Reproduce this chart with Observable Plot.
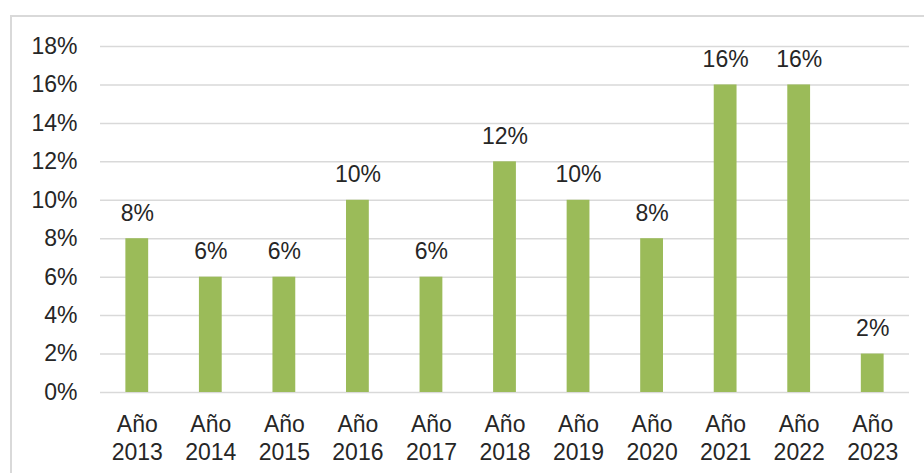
<!DOCTYPE html>
<html>
<head>
<meta charset="utf-8">
<script src="https://cdn.jsdelivr.net/npm/d3@7"></script>
<script src="https://cdn.jsdelivr.net/npm/@observablehq/plot@0.6"></script>
<style>
  html, body { margin: 0; padding: 0; background: #fff; }
  #wrap { position: relative; width: 924px; height: 473px; overflow: hidden; }
  #frame { position: absolute; left: 10px; top: 15px; width: 940px; height: 480px; border: 2px solid #d9d9d9; box-sizing: border-box; }
  #chart { position: absolute; left: 0; top: 0; }
</style>
</head>
<body>
<div id="wrap"><div id="frame"></div><div id="chart"></div></div>
<script>
const years = ["2013","2014","2015","2016","2017","2018","2019","2020","2021","2022","2023"];
const values = [8, 6, 6, 10, 6, 12, 10, 8, 16, 16, 2];
const yTicks = [0, 2, 4, 6, 8, 10, 12, 14, 16, 18];

const data = years.map((y, i) => ({year: y, value: values[i]}));
const font = "Liberation Sans, Arial, sans-serif";
const ink = "#262626";
const fs = 23;

const chart = Plot.plot({
  width: 924,
  height: 473,
  marginLeft: 100,
  marginRight: 15,
  marginTop: 46,
  marginBottom: 81,
  style: {fontFamily: font, fontSize: fs + "px", color: ink, background: "transparent", overflow: "visible"},
  x: {domain: years, paddingInner: 0.69, paddingOuter: 0.345, round: false, label: null},
  y: {domain: [0, 18], label: null},
  marks: [
    Plot.gridY(yTicks, {stroke: "#d9d9d9", strokeOpacity: 1, strokeWidth: 1.5}),
    Plot.barY(data, {x: "year", y: "value", fill: "#9bbb59"}),
    Plot.text(data, {x: "year", y: "value", text: d => d.value + "%", lineAnchor: "bottom", dy: -18, fill: ink, fontSize: fs}),
    Plot.axisY(yTicks, {tickSize: 0, tickPadding: 23, tickFormat: d => d + "%", fontSize: fs, fill: ink, label: null}),
    Plot.axisX({tickSize: 0, tickPadding: 20, tickFormat: d => "Año\n" + d, lineHeight: 1.2, fontSize: fs, fill: ink, label: null})
  ]
});
document.getElementById("chart").appendChild(chart);
</script>
</body>
</html>
